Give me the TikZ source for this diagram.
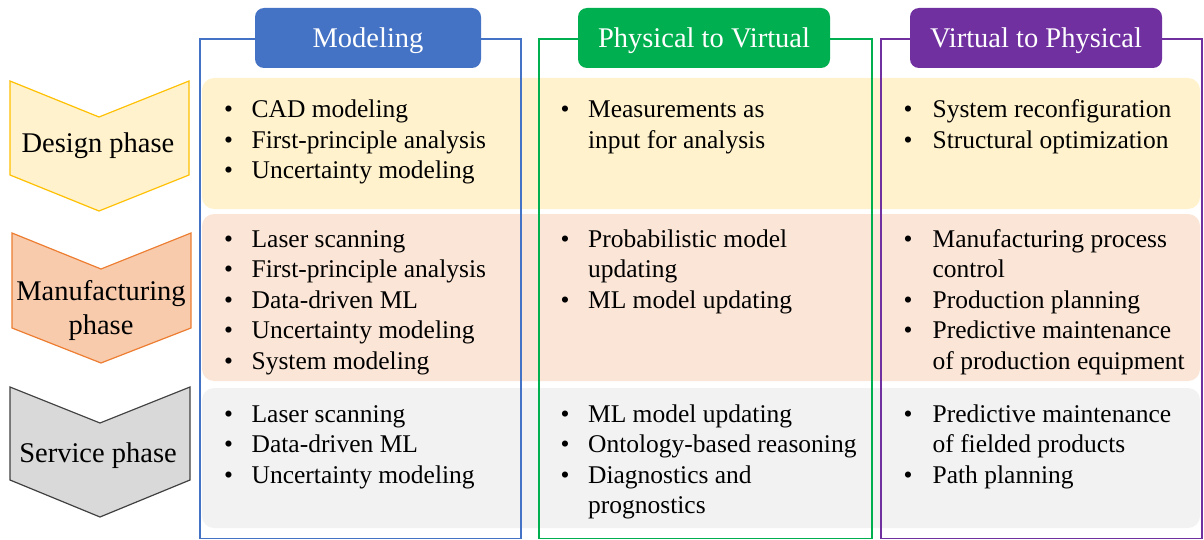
\documentclass[tikz,border=0pt]{standalone}
\usepackage{fontspec}
\setmainfont{Liberation Serif}
\usepackage{tikz}

\definecolor{modelingBlue}{HTML}{4472C4}
\definecolor{ptvGreen}{HTML}{00B050}
\definecolor{vtpPurple}{HTML}{7030A0}
\definecolor{designFill}{HTML}{FFF2CC}
\definecolor{designLine}{HTML}{FFC000}
\definecolor{manufacturingFill}{HTML}{F8CBAD}
\definecolor{manufacturingLine}{HTML}{ED7D31}
\definecolor{manufacturingBand}{HTML}{FBE5D6}
\definecolor{serviceFill}{HTML}{D9D9D9}
\definecolor{serviceLine}{HTML}{404040}
\definecolor{serviceBand}{HTML}{F2F2F2}

\begin{document}
\begin{tikzpicture}[x=1pt, y=-1pt,
  header/.style={rounded corners=9pt, text=white, minimum height=60pt, inner sep=0pt,
    text height=23pt, text depth=3pt, font=\fontsize{28.5}{34}\selectfont},
  column/.style={line width=1.2pt},
  band/.style={rounded corners=12pt},
  phase/.style={line width=1.2pt, line join=miter},
  phaseText/.style={anchor=base, inner sep=0pt, font=\fontsize{28.5}{34}\selectfont},
  cell/.style={anchor=base west, inner sep=0pt, font=\fontsize{25.5}{30.5}\selectfont}]

\useasboundingbox (0,0) rectangle (1204,540);

% Row bands behind everything
\fill[band, designFill] (202,78) rectangle (1200,209);
\fill[band, manufacturingBand] (202,214) rectangle (1200,381);
\fill[band, serviceBand] (202,388) rectangle (1200,528);

% Column frames
\draw[column, modelingBlue] (200,39) rectangle (521,538.5);
\draw[column, ptvGreen] (539,39) rectangle (872,538.5);
\draw[column, vtpPurple] (881,39) rectangle (1202,538.5);

% Column headers
\node[header, fill=modelingBlue, minimum width=226pt] (modeling) at (368,38) {Modeling};
\node[header, fill=ptvGreen, minimum width=252pt] (physicalToVirtual) at (704,38) {Physical to Virtual};
\node[header, fill=vtpPurple, minimum width=252pt] (virtualToPhysical) at (1036,38) {Virtual to Physical};

% Phase chevrons
\draw[phase, fill=designFill, draw=designLine]
  (10,81) -- (99,117) -- (189,81) -- (189,175) -- (99,211) -- (10,175) -- cycle;
\draw[phase, fill=manufacturingFill, draw=manufacturingLine]
  (12,233) -- (101,269) -- (191,233) -- (191,328) -- (101,363) -- (12,328) -- cycle;
\draw[phase, fill=serviceFill, draw=serviceLine]
  (10,387) -- (100,423) -- (190,387) -- (190,480) -- (100,517) -- (10,480) -- cycle;

\node[phaseText] (designPhase) at (98,153) {Design phase};
\node[phaseText] (manufacturingPhase) at (101,300)
  {\begin{tabular}[t]{@{}c@{}}Manufacturing\\ phase\end{tabular}};
\node[phaseText] (servicePhase) at (98,462) {Service phase};

% Design phase cells
\node[cell] (designModeling) at (224,118)
  {\begin{tabular}[t]{@{}l@{\hspace{18.5pt}}l@{}}
   \textbullet & CAD modeling\\
   \textbullet & First-principle analysis\\
   \textbullet & Uncertainty modeling
   \end{tabular}};
\node[cell] (designPtv) at (560.5,118)
  {\begin{tabular}[t]{@{}l@{\hspace{18.5pt}}l@{}}
   \textbullet & Measurements as\\
               & input for analysis
   \end{tabular}};
\node[cell] (designVtp) at (903.5,118)
  {\begin{tabular}[t]{@{}l@{\hspace{20pt}}l@{}}
   \textbullet & System reconfiguration\\
   \textbullet & Structural optimization
   \end{tabular}};

% Manufacturing phase cells
\node[cell] (manufacturingModeling) at (224,247)
  {\begin{tabular}[t]{@{}l@{\hspace{18.5pt}}l@{}}
   \textbullet & Laser scanning\\
   \textbullet & First-principle analysis\\
   \textbullet & Data-driven ML\\
   \textbullet & Uncertainty modeling\\
   \textbullet & System modeling
   \end{tabular}};
\node[cell] (manufacturingPtv) at (560.5,247)
  {\begin{tabular}[t]{@{}l@{\hspace{18.5pt}}l@{}}
   \textbullet & Probabilistic model\\
               & updating\\
   \textbullet & ML model updating
   \end{tabular}};
\node[cell] (manufacturingVtp) at (903.5,247)
  {\begin{tabular}[t]{@{}l@{\hspace{20pt}}l@{}}
   \textbullet & Manufacturing process\\
               & control\\
   \textbullet & Production planning\\
   \textbullet & Predictive maintenance\\
               & of production equipment
   \end{tabular}};

% Service phase cells
\node[cell] (serviceModeling) at (224,422)
  {\begin{tabular}[t]{@{}l@{\hspace{18.5pt}}l@{}}
   \textbullet & Laser scanning\\
   \textbullet & Data-driven ML\\
   \textbullet & Uncertainty modeling
   \end{tabular}};
\node[cell] (servicePtv) at (560.5,422)
  {\begin{tabular}[t]{@{}l@{\hspace{18.5pt}}l@{}}
   \textbullet & ML model updating\\
   \textbullet & Ontology-based reasoning\\
   \textbullet & Diagnostics and\\
               & prognostics
   \end{tabular}};
\node[cell] (serviceVtp) at (903.5,422)
  {\begin{tabular}[t]{@{}l@{\hspace{20pt}}l@{}}
   \textbullet & Predictive maintenance\\
               & of fielded products\\
   \textbullet & Path planning
   \end{tabular}};

\end{tikzpicture}
\end{document}
